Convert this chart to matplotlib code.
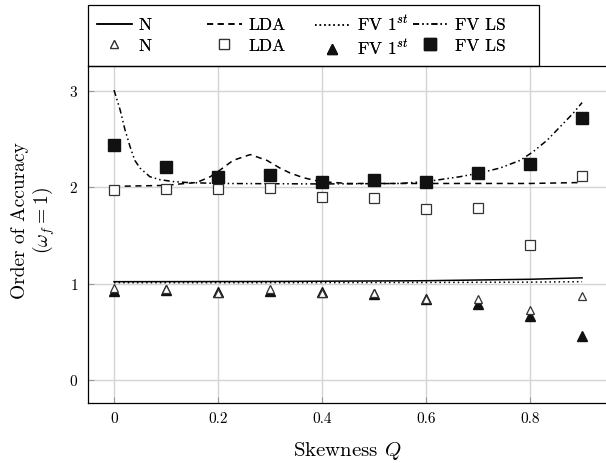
import matplotlib
matplotlib.use("Agg")
import matplotlib.pyplot as plt
from matplotlib.patches import Rectangle

plt.rcParams['font.family'] = ['cmr10', 'DejaVu Serif']
plt.rcParams['mathtext.fontset'] = 'cm'
plt.rcParams['axes.formatter.use_mathtext'] = True

# discrete results (markers)
q_pts = [0.0, 0.1, 0.2, 0.3, 0.4, 0.5, 0.6, 0.7, 0.8, 0.9]
n_pts = [0.95, 0.94, 0.90, 0.94, 0.90, 0.90, 0.84, 0.84, 0.73, 0.87]
lda_pts = [1.97, 1.98, 1.98, 1.99, 1.90, 1.89, 1.77, 1.79, 1.40, 2.12]
fv1_pts = [0.92, 0.93, 0.91, 0.92, 0.91, 0.89, 0.84, 0.79, 0.66, 0.46]
fvls_pts = [2.44, 2.21, 2.11, 2.13, 2.06, 2.08, 2.06, 2.15, 2.24, 2.72]

# theory curves (lines)
n_line_q = [0.0, 0.3, 0.6, 0.8, 0.9]
n_line = [1.02, 1.022, 1.03, 1.045, 1.06]

fv1_line_q = [0.0, 0.3, 0.6, 0.8, 0.9]
fv1_line = [1.01, 1.01, 1.012, 1.015, 1.02]

lda_line_q = [0.0, 0.1, 0.127, 0.159, 0.185, 0.204, 0.229, 0.262, 0.294,
              0.319, 0.338, 0.364, 0.396, 0.45, 0.6, 0.8, 0.85, 0.9]
lda_line = [2.01, 2.02, 2.035, 2.05, 2.11, 2.18, 2.28, 2.34, 2.28,
            2.20, 2.15, 2.10, 2.06, 2.04, 2.04, 2.04, 2.045, 2.05]

fvls_line_q = [0.0, 0.012, 0.021, 0.031, 0.040, 0.05, 0.069, 0.088, 0.113,
               0.14, 0.2, 0.4, 0.55, 0.6, 0.627, 0.665, 0.704, 0.742,
               0.781, 0.806, 0.833, 0.858, 0.883, 0.9]
fvls_line = [3.01, 2.80, 2.60, 2.42, 2.28, 2.20, 2.11, 2.08, 2.06,
             2.05, 2.04, 2.035, 2.04, 2.06, 2.08, 2.11, 2.15, 2.20,
             2.28, 2.37, 2.49, 2.63, 2.77, 2.88]

W, H = 606, 463
fig = plt.figure(figsize=(W / 100, H / 100), dpi=100)
ax = fig.add_axes([88 / W, 1 - 403 / H, 1 - 88 / W, (403 - 66) / H])

lw = 1.1
h_n, = ax.plot(n_line_q, n_line, color='black', lw=lw, ls='-')
h_lda, = ax.plot(lda_line_q, lda_line, color='black', lw=lw, ls=(0, (4, 3)))
h_fv1, = ax.plot(fv1_line_q, fv1_line, color='black', lw=lw, ls=(0, (1, 2)))
h_fvls, = ax.plot(fvls_line_q, fvls_line, color='black', lw=lw,
                  ls=(0, (4, 2, 1, 2, 1, 2)))

m_lda, = ax.plot(q_pts, lda_pts, ls='none', marker='s', ms=7.3, mfc='white',
                 mec='#333333', mew=0.9)
m_fvls, = ax.plot(q_pts, fvls_pts, ls='none', marker='s', ms=8, mfc='#111111',
                  mec='#111111')
m_fv1, = ax.plot(q_pts, fv1_pts, ls='none', marker='^', ms=6.5, mfc='#111111',
                 mec='#111111')
m_n, = ax.plot(q_pts, n_pts, ls='none', marker='^', ms=6, mfc='white',
               mec='#333333', mew=0.9)

ax.set_xlim(-0.05, 0.946)
ax.set_ylim(-0.24, 3.26)
ax.set_xticks([0, 0.2, 0.4, 0.6, 0.8])
ax.set_xticklabels(['0', '0.2', '0.4', '0.6', '0.8'])
ax.set_yticks([0, 1, 2, 3])
ax.grid(True, color='#d4d4d4', lw=1.0)
ax.set_axisbelow(True)
ax.tick_params(direction='in', length=4, color='#999999', labelsize=11,
               top=False, right=False, pad=7)
ax.spines['right'].set_visible(False)
for s in ['left', 'bottom', 'top']:
    ax.spines[s].set_linewidth(0.9)

ax.set_xlabel('Skewness $Q$', fontsize=15, labelpad=10)
ax.set_ylabel('Order of Accuracy\n($\\omega_f = 1$)', fontsize=14,
              linespacing=1.1)
ax.yaxis.set_label_coords(-0.06, 0.54)

# legend: four fixed-width columns inside one frame
fig.add_artist(Rectangle((88 / W, 1 - 66 / H), (539 - 88) / W, 61 / H,
                         transform=fig.transFigure, fill=False,
                         edgecolor='black', lw=0.9))
columns = [(h_n, m_n, 'N'), (h_lda, m_lda, 'LDA'),
           (h_fv1, m_fv1, 'FV $1^{st}$'), (h_fvls, m_fvls, 'FV LS')]
col_x = [97, 207, 315, 413]
col_top = [18, 18, 15, 18]
for (hl, hm, lab), cx, ct in zip(columns, col_x, col_top):
    lg = fig.legend([hl, hm], [lab, lab], loc='upper left',
                    bbox_to_anchor=(cx / W, 1 - ct / H), frameon=False,
                    borderpad=0, borderaxespad=0, fontsize=12.5,
                    handlelength=2.0, handletextpad=0.4, labelspacing=0.28)
    fig.add_artist(lg)

fig.savefig('out.png', dpi=100)
